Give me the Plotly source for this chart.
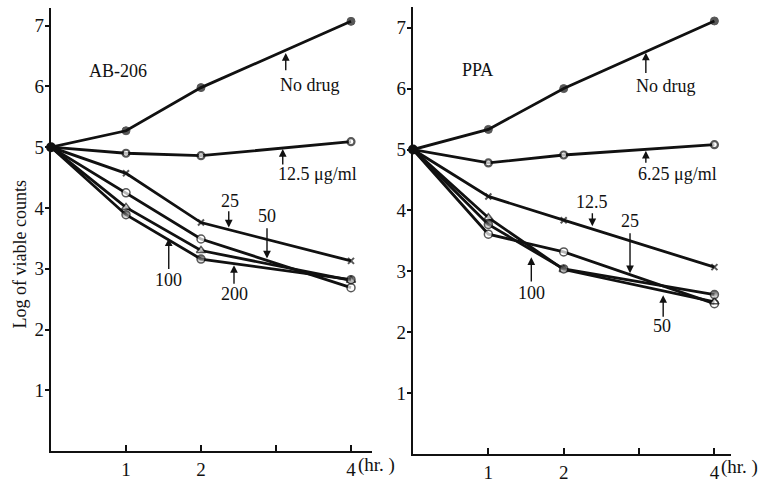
import plotly.graph_objects as go

# ---------------- data ----------------
hours = [0, 1, 2, 4]
start_hour = [0]
start_log = [5.0]

ab_labels = ["No drug", "12.5 μg/ml", "25", "50", "100", "200"]
ab_nodrug = [5.0, 5.27, 5.98, 7.07]
ab_12_5 = [5.0, 4.90, 4.86, 5.09]
ab_25 = [5.0, 4.57, 3.76, 3.13]
ab_50 = [5.0, 4.25, 3.49, 2.69]
ab_100 = [5.0, 4.01, 3.30, 2.81]
ab_200 = [5.0, 3.89, 3.16, 2.82]

ppa_labels = ["No drug", "6.25 μg/ml", "12.5", "25", "50", "100"]
ppa_nodrug = [5.0, 5.33, 6.00, 7.11]
ppa_6_25 = [5.0, 4.78, 4.91, 5.08]
ppa_12_5 = [5.0, 4.23, 3.84, 3.07]
ppa_25 = [5.0, 3.61, 3.32, 2.47]
ppa_50 = [5.0, 3.88, 3.03, 2.50]
ppa_100 = [5.0, 3.77, 3.04, 2.62]

x_tickvals = [1, 2, 3, 4]
x_ticktext = ["1", "2", "", "4"]
y_tickvals = [1, 2, 3, 4, 5, 6, 7]
y_ticktext = ["1", "2", "3", "4", "5", "6", "7"]

FONT = "Liberation Serif"
BLACK = "#111111"

styles = {
    "filled": dict(symbol="circle", size=8, color=BLACK, line=dict(color=BLACK, width=1)),
    "ring": dict(symbol="circle", size=7, color="white", line=dict(color=BLACK, width=2.2)),
    "x": dict(symbol="x-thin", size=6, color=BLACK, line=dict(color=BLACK, width=2)),
    "open": dict(symbol="circle", size=8, color="white", line=dict(color=BLACK, width=1.5)),
    "tri": dict(symbol="triangle-up", size=8, color="white", line=dict(color=BLACK, width=1.5)),
    "half": dict(symbol="circle", size=8, color=BLACK, line=dict(color=BLACK, width=1.5),
                 gradient=dict(type="vertical", color="white")),
}

fig = go.Figure()


def add_series(values, name, style, xa, ya):
    sizes = [0] + [styles[style]["size"]] * (len(hours) - 1)
    m = dict(styles[style])
    m["size"] = sizes
    fig.add_trace(go.Scatter(
        x=hours, y=values, mode="lines+markers", name=name,
        line=dict(color=BLACK, width=2.8),
        marker=m, xaxis=xa, yaxis=ya, showlegend=False, cliponaxis=False))


ab_series = [ab_nodrug, ab_12_5, ab_25, ab_50, ab_100, ab_200]
ppa_series = [ppa_nodrug, ppa_6_25, ppa_12_5, ppa_25, ppa_50, ppa_100]
ab_styles = ["filled", "ring", "x", "open", "tri", "half"]
ppa_styles = ["filled", "ring", "x", "open", "tri", "half"]

for vals, lab, st in zip(ab_series, ab_labels, ab_styles):
    add_series(vals, "AB-206 " + lab, st, "x", "y")
for vals, lab, st in zip(ppa_series, ppa_labels, ppa_styles):
    add_series(vals, "PPA " + lab, st, "x2", "y2")

for xa, ya in [("x", "y"), ("x2", "y2")]:
    fig.add_trace(go.Scatter(x=start_hour, y=start_log, mode="markers",
                             marker=dict(symbol="circle", size=10, color=BLACK),
                             xaxis=xa, yaxis=ya, showlegend=False, cliponaxis=False))

W, H = 762, 483
tickfont = dict(family=FONT, size=19, color=BLACK)

xcommon = dict(tickvals=x_tickvals, ticktext=x_ticktext, ticks="inside", ticklen=6,
               tickwidth=1.5, tickcolor=BLACK, showline=True, linecolor=BLACK,
               linewidth=2.2, showgrid=False, zeroline=False, tickfont=tickfont)
ycommon = dict(tickvals=y_tickvals, ticktext=y_ticktext, ticks="outside", ticklen=4,
               tickwidth=1.5, tickcolor=BLACK, showline=True, linecolor=BLACK,
               linewidth=2.2, showgrid=False, zeroline=False, tickfont=tickfont,
               ticklabelstandoff=-3)

fig.update_layout(
    width=W, height=H,
    margin=dict(l=0, r=0, t=0, b=0),
    paper_bgcolor="white", plot_bgcolor="white",
    xaxis=dict(domain=[51 / W, 372 / W], range=[0, 4.28], anchor="y", **xcommon),
    yaxis=dict(domain=[(H - 454) / H, (H - 8) / H], range=[0, 7.29], anchor="x", **ycommon),
    xaxis2=dict(domain=[413 / W, 731 / W], range=[0, 4.22], anchor="y2", **xcommon),
    yaxis2=dict(domain=[(H - 457) / H, (H - 7) / H], range=[0, 7.34], anchor="x2", **ycommon),
)

ann = []
lab_font = dict(family=FONT, size=19, color=BLACK)


def text(xref, yref, x, y, s, size=18):
    ann.append(dict(xref=xref, yref=yref, x=x, y=y, text=s, showarrow=False,
                    font=dict(family=FONT, size=size, color=BLACK)))


def arrow(xref, yref, x, y0, y1):
    ann.append(dict(xref=xref, yref=yref, axref=xref, ayref=yref, x=x, y=y1, ax=x, ay=y0,
                    text="", showarrow=True, arrowhead=2, arrowsize=1.1, arrowwidth=1.4,
                    arrowcolor=BLACK, standoff=0, startstandoff=0))


# "(hr. )" after the 4 tick labels
ann.append(dict(xref="x", yref="paper", x=4, y=(H - 468) / H, text="(hr. )", showarrow=False,
                xanchor="left", yanchor="middle", xshift=5, font=lab_font))
ann.append(dict(xref="x2", yref="paper", x=4, y=(H - 470) / H, text="(hr. )", showarrow=False,
                xanchor="left", yanchor="middle", xshift=5, font=lab_font))

# left panel
text("x", "y", 0.89, 6.26, "AB-206")
text("x", "y", 3.45, 6.03, "No drug")
arrow("x", "y", 3.13, 6.24, 6.55)
text("x", "y", 3.55, 4.56, "12.5 μg/ml")
arrow("x", "y", 3.09, 4.69, 4.97)
text("x", "y", 2.39, 4.12, "25")
arrow("x", "y", 2.37, 3.97, 3.68)
text("x", "y", 2.88, 3.86, "50")
arrow("x", "y", 2.88, 3.69, 3.17)
text("x", "y", 1.57, 2.81, "100")
arrow("x", "y", 1.57, 2.97, 3.50)
text("x", "y", 2.44, 2.58, "200")
arrow("x", "y", 2.44, 2.73, 3.06)

# right panel
text("x2", "y2", 0.86, 6.30, "PPA")
text("x2", "y2", 3.36, 6.04, "No drug")
arrow("x2", "y2", 3.09, 6.23, 6.59)
text("x2", "y2", 3.51, 4.60, "6.25 μg/ml")
arrow("x2", "y2", 3.09, 4.76, 4.98)
text("x2", "y2", 2.38, 4.14, "12.5")
arrow("x2", "y2", 2.38, 3.98, 3.74)
text("x2", "y2", 2.88, 3.82, "25")
arrow("x2", "y2", 2.88, 3.65, 2.97)
text("x2", "y2", 1.57, 2.64, "100")
arrow("x2", "y2", 1.57, 2.81, 3.23)
text("x2", "y2", 3.31, 2.10, "50")
arrow("x2", "y2", 3.32, 2.23, 2.61)

# y-axis title
ann.append(dict(xref="paper", yref="paper", x=20 / W, y=(H - 256) / H, text="Log of viable counts",
                textangle=-90, showarrow=False, xanchor="center", yanchor="middle",
                font=dict(family=FONT, size=18, color=BLACK)))

fig.update_layout(annotations=ann)
fig.write_html("out.html", config={"displayModeBar": False},
               post_script="document.body.style.margin='0';document.body.style.overflow='hidden';")
